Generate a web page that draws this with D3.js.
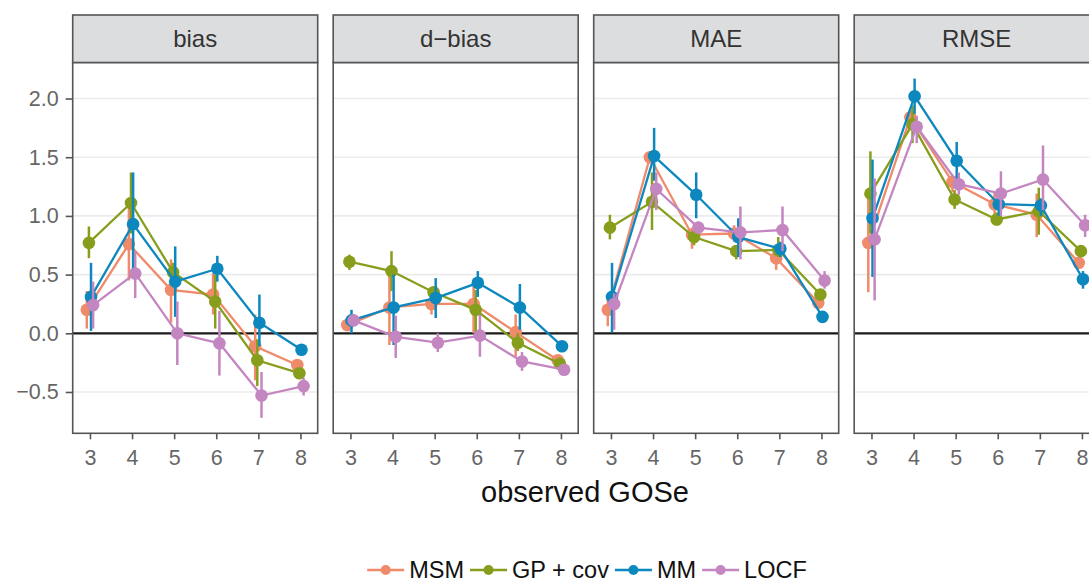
<!DOCTYPE html>
<html>
<head>
<meta charset="utf-8">
<script src="https://cdn.jsdelivr.net/npm/d3@7"></script>
<style>
  body { margin: 0; background: #fff; }
  text { font-family: "Liberation Sans", Arial, sans-serif; }
</style>
</head>
<body>
<div id="chartArea"></div>
<script>
// observed GOSe levels and facet names
var gose = [3, 4, 5, 6, 7, 8];
var metrics = ["bias", "d\u2212bias", "MAE", "RMSE"];
var models = ["MSM", "GP + cov", "MM", "LOCF"];
var colors = ["#EF8A6A", "#879E1C", "#0C88BE", "#C486C0"];
var yTicks = [-0.5, 0, 0.5, 1, 1.5, 2];

// estimates, one row per metric (bias, d-bias, MAE, RMSE)
var msm_est = [
  [0.20, 0.76, 0.37, 0.33, -0.11, -0.27],
  [0.07, 0.22, 0.25, 0.25, 0.01, -0.23],
  [0.20, 1.50, 0.84, 0.85, 0.64, 0.26],
  [0.77, 1.84, 1.29, 1.10, 1.01, 0.60]
];
var msm_lo = [
  [0.04, 0.45, 0.09, 0.16, -0.40, -0.30],
  [0.05, -0.10, 0.16, 0.00, -0.20, -0.26],
  [0.06, 1.45, 0.72, 0.78, 0.54, 0.23],
  [0.35, 1.78, 1.20, 0.98, 0.82, 0.56]
];
var msm_hi = [
  [0.36, 1.08, 0.63, 0.51, 0.16, -0.24],
  [0.09, 0.53, 0.31, 0.45, 0.16, -0.20],
  [0.28, 1.55, 0.90, 0.92, 0.71, 0.29],
  [1.20, 1.90, 1.35, 1.20, 1.19, 0.64]
];

var gp_est = [
  [0.77, 1.11, 0.52, 0.27, -0.23, -0.34],
  [0.61, 0.53, 0.35, 0.20, -0.08, -0.26],
  [0.90, 1.12, 0.82, 0.70, 0.71, 0.33],
  [1.19, 1.78, 1.14, 0.97, 1.04, 0.70]
];
var gp_lo = [
  [0.64, 0.85, 0.45, 0.04, -0.45, -0.37],
  [0.54, 0.36, 0.30, 0.00, -0.15, -0.29],
  [0.80, 0.88, 0.75, 0.63, 0.65, 0.30],
  [0.85, 1.62, 1.06, 0.92, 0.84, 0.66]
];
var gp_hi = [
  [0.91, 1.37, 0.60, 0.50, -0.05, -0.31],
  [0.67, 0.70, 0.40, 0.37, 0.00, -0.23],
  [1.01, 1.37, 0.87, 0.75, 0.82, 0.36],
  [1.55, 1.94, 1.22, 1.03, 1.24, 0.75]
];

var mm_est = [
  [0.31, 0.93, 0.44, 0.55, 0.09, -0.14],
  [0.11, 0.22, 0.30, 0.43, 0.22, -0.11],
  [0.31, 1.51, 1.18, 0.82, 0.72, 0.14],
  [0.98, 2.02, 1.47, 1.10, 1.09, 0.46]
];
var mm_lo = [
  [0.02, 0.50, 0.14, 0.44, -0.11, -0.16],
  [0.00, -0.10, 0.13, 0.31, 0.03, -0.16],
  [0.01, 1.30, 0.98, 0.65, 0.65, 0.12],
  [0.48, 1.87, 1.30, 1.00, 1.00, 0.38]
];
var mm_hi = [
  [0.60, 1.37, 0.74, 0.66, 0.33, -0.12],
  [0.20, 0.50, 0.47, 0.53, 0.42, -0.07],
  [0.60, 1.75, 1.37, 0.98, 0.78, 0.16],
  [1.48, 2.17, 1.63, 1.20, 1.15, 0.53]
];

var locf_est = [
  [0.24, 0.51, 0.00, -0.085, -0.53, -0.45],
  [0.11, -0.03, -0.08, -0.02, -0.24, -0.31],
  [0.25, 1.23, 0.90, 0.86, 0.88, 0.45],
  [0.80, 1.76, 1.27, 1.19, 1.31, 0.92]
];
var locf_lo = [
  [0.04, 0.30, -0.27, -0.36, -0.72, -0.53],
  [0.08, -0.21, -0.16, -0.20, -0.32, -0.34],
  [0.03, 1.05, 0.85, 0.63, 0.70, 0.38],
  [0.28, 1.62, 1.18, 1.00, 1.05, 0.82]
];
var locf_hi = [
  [0.44, 0.70, 0.27, 0.19, -0.33, -0.38],
  [0.14, 0.15, 0.00, 0.16, -0.16, -0.28],
  [0.34, 1.37, 0.95, 1.08, 1.08, 0.53],
  [1.32, 1.85, 1.37, 1.38, 1.60, 1.01]
];

var est = [msm_est, gp_est, mm_est, locf_est];
var lo = [msm_lo, gp_lo, mm_lo, locf_lo];
var hi = [msm_hi, gp_hi, mm_hi, locf_hi];
var dodge = [-0.075, -0.025, 0.025, 0.075];

var W = 1089, H = 584;
var margin = { left: 72.7, top: 15 };
var panelW = 245, panelGap = 15.5, stripH = 47.5, panelBottom = 433.3;
var tickFont = "21.5px";

var svg = d3.select("#chartArea").append("svg")
    .attr("width", W).attr("height", H);

var x = d3.scaleLinear().domain([2.59, 8.41]).range([0, panelW]);
var y = d3.scaleLinear().domain([-0.852, 2.307]).range([panelBottom, margin.top + stripH]);

var line = d3.line()
    .x(function(d) { return x(d.g + d.off); })
    .y(function(d) { return y(d.v); });

metrics.forEach(function(metric, mi) {
    var px = margin.left + mi * (panelW + panelGap);
    var g = svg.append("g").attr("transform", "translate(" + px + ",0)");
    var top = margin.top + stripH;

    // grid
    g.selectAll(".grid").data(yTicks.filter(function(t) { return t != 0; }))
        .enter().append("line")
        .attr("x1", 0).attr("x2", panelW)
        .attr("y1", function(d) { return y(d); }).attr("y2", function(d) { return y(d); })
        .style("stroke", "#EBEBEB").style("stroke-width", 1.6);

    // zero reference line
    g.append("line")
        .attr("x1", 0).attr("x2", panelW)
        .attr("y1", y(0)).attr("y2", y(0))
        .style("stroke", "#1a1a1a").style("stroke-width", 2.2);

    // series
    var series = models.map(function(name, si) {
        return {
            name: name, color: colors[si],
            values: gose.map(function(gv, i) {
                return { g: gv, off: dodge[si], v: est[si][mi][i], lo: lo[si][mi][i], hi: hi[si][mi][i] };
            })
        };
    });

    var sv = g.selectAll(".model").data(series).enter().append("g").attr("class", "model");

    sv.append("path")
        .attr("d", function(d) { return line(d.values); })
        .style("fill", "none")
        .style("stroke", function(d) { return d.color; })
        .style("stroke-width", 2.3);

    sv.each(function(s) {
        var gg = d3.select(this);
        gg.selectAll(".err").data(s.values).enter().append("line")
            .attr("x1", function(d) { return x(d.g + d.off); })
            .attr("x2", function(d) { return x(d.g + d.off); })
            .attr("y1", function(d) { return y(d.lo); })
            .attr("y2", function(d) { return y(d.hi); })
            .style("stroke", s.color).style("stroke-width", 2.5);
        gg.selectAll(".pt").data(s.values).enter().append("circle")
            .attr("cx", function(d) { return x(d.g + d.off); })
            .attr("cy", function(d) { return y(d.v); })
            .attr("r", 6.3)
            .style("fill", s.color);
    });

    // panel border
    g.append("rect")
        .attr("x", 0).attr("y", top).attr("width", panelW).attr("height", panelBottom - top)
        .style("fill", "none").style("stroke", "#555").style("stroke-width", 1.6);

    // strip
    g.append("rect")
        .attr("x", 0).attr("y", margin.top).attr("width", panelW).attr("height", stripH)
        .style("fill", "#DCDDDF").style("stroke", "#555").style("stroke-width", 1.6);
    g.append("text")
        .attr("x", panelW / 2).attr("y", margin.top + stripH / 2)
        .attr("dy", "0.35em")
        .style("text-anchor", "middle")
        .style("font-size", "24px").style("fill", "#333")
        .text(metric);

    // x axis
    var xa = g.append("g")
        .attr("transform", "translate(0," + panelBottom + ")")
        .call(d3.axisBottom(x).tickValues(gose).tickFormat(d3.format("d")).tickSize(6).tickPadding(10));
    xa.select(".domain").remove();
    xa.selectAll(".tick line").style("stroke", "#555").style("stroke-width", 1.6);
    xa.selectAll(".tick text").style("font-size", tickFont).style("fill", "#666")
        .style("font-family", "Liberation Sans, Arial, sans-serif");

    if (mi == 0) {
        var ya = g.append("g")
            .call(d3.axisLeft(y).tickValues(yTicks).tickFormat(d3.format(".1f")).tickSize(7).tickPadding(7));
        ya.select(".domain").remove();
        ya.selectAll(".tick line").style("stroke", "#555").style("stroke-width", 1.6);
        ya.selectAll(".tick text").style("font-size", tickFont).style("fill", "#666")
            .style("font-family", "Liberation Sans, Arial, sans-serif");
    }
});

// axis title
svg.append("text")
    .attr("x", 585).attr("y", 502)
    .style("text-anchor", "middle")
    .style("font-size", "29px").style("fill", "#111")
    .text("observed GOSe");

// legend
var legend = svg.append("g");
var lx = 0;
models.forEach(function(name, si) {
    var it = legend.append("g");
    it.append("line").attr("x1", 0).attr("x2", 37).attr("y1", 0).attr("y2", 0)
        .style("stroke", colors[si]).style("stroke-width", 2.5);
    it.append("circle").attr("cx", 18.5).attr("cy", 0).attr("r", 5).style("fill", colors[si]);
    var t = it.append("text").attr("x", 42).attr("y", 8)
        .style("font-size", "23.5px").style("fill", "#111").text(name);
    var w = 42 + t.node().getComputedTextLength();
    it.attr("transform", "translate(" + lx + ",0)");
    lx += w + 6;
});
legend.attr("transform", "translate(" + (587 - (lx - 6) / 2) + ",570)");
</script>
</body>
</html>
